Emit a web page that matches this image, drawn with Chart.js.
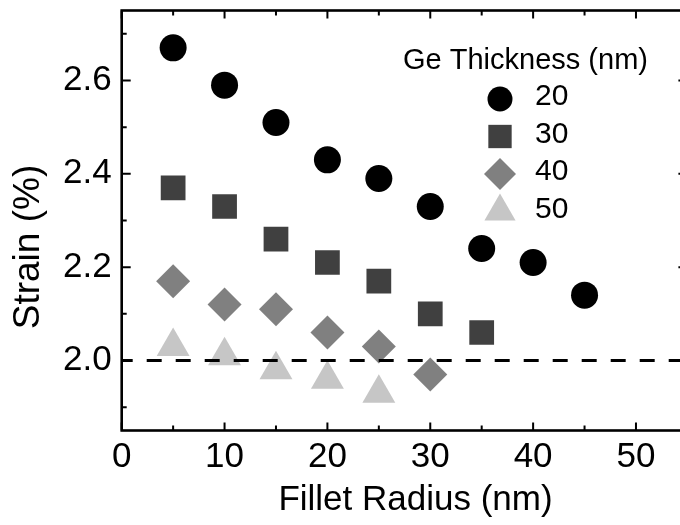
<!DOCTYPE html>
<html><head><meta charset="utf-8">
<script src="https://cdn.jsdelivr.net/npm/chart.js@4.4.1/dist/chart.umd.min.js"></script>
<style>
html,body{margin:0;padding:0;background:#fff;overflow:hidden;width:680px;height:525px;}
#wrap{width:700px;height:525px;}
canvas{display:block;}
</style></head><body>
<div id="wrap"><canvas id="c" width="700" height="525" style="width:700px;height:525px"></canvas></div>
<script>
// ---- data ----
const filletRadius = [5, 10, 15, 20, 25, 30, 35, 40, 45];
const thicknessLabels = ['20', '30', '40', '50'];
const strain20 = [2.67, 2.59, 2.51, 2.43, 2.39, 2.33, 2.24, 2.21, 2.14];
const strain30 = [2.37, 2.33, 2.26, 2.21, 2.17, 2.10, 2.06];
const strain40 = [2.17, 2.12, 2.11, 2.06, 2.03, 1.97];
const strain50 = [2.03, 2.01, 1.98, 1.96, 1.93];
const xTickValues = [0, 10, 20, 30, 40, 50];
const xMinorValues = [5, 15, 25, 35, 45, 55];
const yTickValues = [2.0, 2.2, 2.4, 2.6];
const yMinorValues = [1.9, 2.1, 2.3, 2.5, 2.7];
const xRange = [0, 55];
const yRange = [1.85, 2.75];
const referenceStrain = 2.0;
const xTitle = 'Fillet Radius (nm)';
const yTitle = 'Strain (%)';
const legendTitle = 'Ge Thickness (nm)';

const FONT = '"Liberation Sans", Arial, Helvetica, sans-serif';
Chart.defaults.font.family = FONT;
Chart.defaults.color = '#000';

const pts = (ys) => ys.map((y, i) => ({x: filletRadius[i], y}));

function drawShape(ctx, style, x, y, r) {
  const H = Chart.helpers;
  if (H && H.drawPoint) {
    H.drawPoint(ctx, {pointStyle: style, radius: r, rotation: 0, borderWidth: 0}, x, y);
    return;
  }
  ctx.beginPath();
  if (style === 'circle') ctx.arc(x, y, r, 0, Math.PI * 2);
  else if (style === 'rect') { const s = r * Math.SQRT1_2; ctx.rect(x - s, y - s, 2 * s, 2 * s); }
  else if (style === 'rectRot') { ctx.moveTo(x, y - r); ctx.lineTo(x + r, y); ctx.lineTo(x, y + r); ctx.lineTo(x - r, y); ctx.closePath(); }
  else if (style === 'triangle') {
    let a = 0; ctx.moveTo(x + Math.sin(a) * r, y - Math.cos(a) * r);
    a += 2 * Math.PI / 3; ctx.lineTo(x + Math.sin(a) * r, y - Math.cos(a) * r);
    a += 2 * Math.PI / 3; ctx.lineTo(x + Math.sin(a) * r, y - Math.cos(a) * r);
    ctx.closePath();
  }
  ctx.fill();
}

const framePlugin = {
  id: 'frame',
  afterDatasetsDraw(chart) {
    const {ctx, chartArea: a, scales: {x, y}} = chart;
    ctx.save();
    ctx.strokeStyle = '#000';
    ctx.lineCap = 'butt';
    ctx.lineWidth = 2;
    const tick = (vals, len, isX) => {
      vals.forEach(v => {
        ctx.beginPath();
        if (isX) {
          const p = x.getPixelForValue(v);
          ctx.moveTo(p, a.bottom); ctx.lineTo(p, a.bottom - len);
          ctx.moveTo(p, a.top); ctx.lineTo(p, a.top + len);
        } else {
          const p = y.getPixelForValue(v);
          ctx.moveTo(a.left, p); ctx.lineTo(a.left + len, p);
          ctx.moveTo(a.right, p); ctx.lineTo(a.right - len, p);
        }
        ctx.stroke();
      });
    };
    tick(xTickValues, 8, true);
    tick(xMinorValues, 5, true);
    tick(yTickValues, 9, false);
    tick(yMinorValues, 5, false);
    ctx.lineWidth = 2.6;
    ctx.strokeRect(a.left, a.top, a.right - a.left, a.bottom - a.top);
    ctx.restore();
  },
  afterDraw(chart) {
    const ctx = chart.ctx;
    ctx.save();
    ctx.fillStyle = '#000';
    ctx.textAlign = 'center';
    ctx.textBaseline = 'middle';
    ctx.font = '35px ' + FONT;
    ctx.fillText(xTitle, 415.5, 500);
    ctx.save();
    ctx.translate(29, 247);
    ctx.rotate(-Math.PI / 2);
    ctx.font = '37px ' + FONT;
    ctx.fillText(yTitle, 0, 0);
    ctx.restore();
    ctx.font = '29px ' + FONT;
    ctx.fillText(legendTitle, 525.5, 61);
    const items = chart.data.datasets.filter(d => d.inLegend);
    items.forEach((d, i) => {
      const cy = 99 + i * 37.5;
      ctx.fillStyle = d.backgroundColor;
      drawShape(ctx, d.pointStyle, 500, cy, d.pointRadius - 1);
      ctx.fillStyle = '#000';
      ctx.textAlign = 'left';
      ctx.font = '30px ' + FONT;
      ctx.fillText(d.label, 535, cy - 2);
    });
    ctx.restore();
  }
};

new Chart(document.getElementById('c'), {
  type: 'scatter',
  data: {
    datasets: [
      {label: 'ref', data: [{x: xRange[0], y: referenceStrain}, {x: xRange[1], y: referenceStrain}],
       showLine: true, borderColor: '#000', borderWidth: 3, borderDash: [15, 14], borderDashOffset: 4,
       pointRadius: 0, order: -1, inLegend: false},
      {label: thicknessLabels[0], data: pts(strain20), pointStyle: 'circle', pointRadius: 13.5,
       backgroundColor: '#000000', borderWidth: 0, inLegend: true},
      {label: thicknessLabels[1], data: pts(strain30), pointStyle: 'rect', pointRadius: 17.5,
       backgroundColor: '#404040', borderWidth: 0, inLegend: true},
      {label: thicknessLabels[2], data: pts(strain40), pointStyle: 'rectRot', pointRadius: 17,
       backgroundColor: '#808080', borderWidth: 0, inLegend: true},
      {label: thicknessLabels[3], data: pts(strain50), pointStyle: 'triangle', pointRadius: 19,
       backgroundColor: '#c6c6c6', borderWidth: 0, inLegend: true}
    ]
  },
  options: {
    responsive: false,
    animation: false,
    events: [],
    layout: {autoPadding: false, padding: {top: 10.5, right: 12.6, left: 0, bottom: 0}},
    plugins: {legend: {display: false}, tooltip: {enabled: false}},
    scales: {
      x: {
        type: 'linear', position: 'bottom', min: xRange[0], max: xRange[1],
        afterFit(s) { s.height = 94.5; s.paddingLeft = 0; s.paddingRight = 0; },
        afterBuildTicks(s) { s.ticks = xTickValues.map(v => ({value: v})); },
        grid: {display: false, drawTicks: false},
        border: {display: false},
        ticks: {padding: 6, color: '#000', font: {size: 35}, maxRotation: 0, autoSkip: false,
                callback: v => String(v)}
      },
      y: {
        type: 'linear', min: yRange[0], max: yRange[1],
        afterFit(s) { s.width = 121.7; s.paddingTop = 0; s.paddingBottom = 0; },
        afterBuildTicks(s) { s.ticks = yTickValues.map(v => ({value: v})); },
        grid: {display: false, drawTicks: false},
        border: {display: false},
        ticks: {padding: 10, color: '#000', font: {size: 35}, autoSkip: false,
                callback: v => Number(v).toFixed(1)}
      }
    }
  },
  plugins: [framePlugin]
});
</script>
</body></html>
